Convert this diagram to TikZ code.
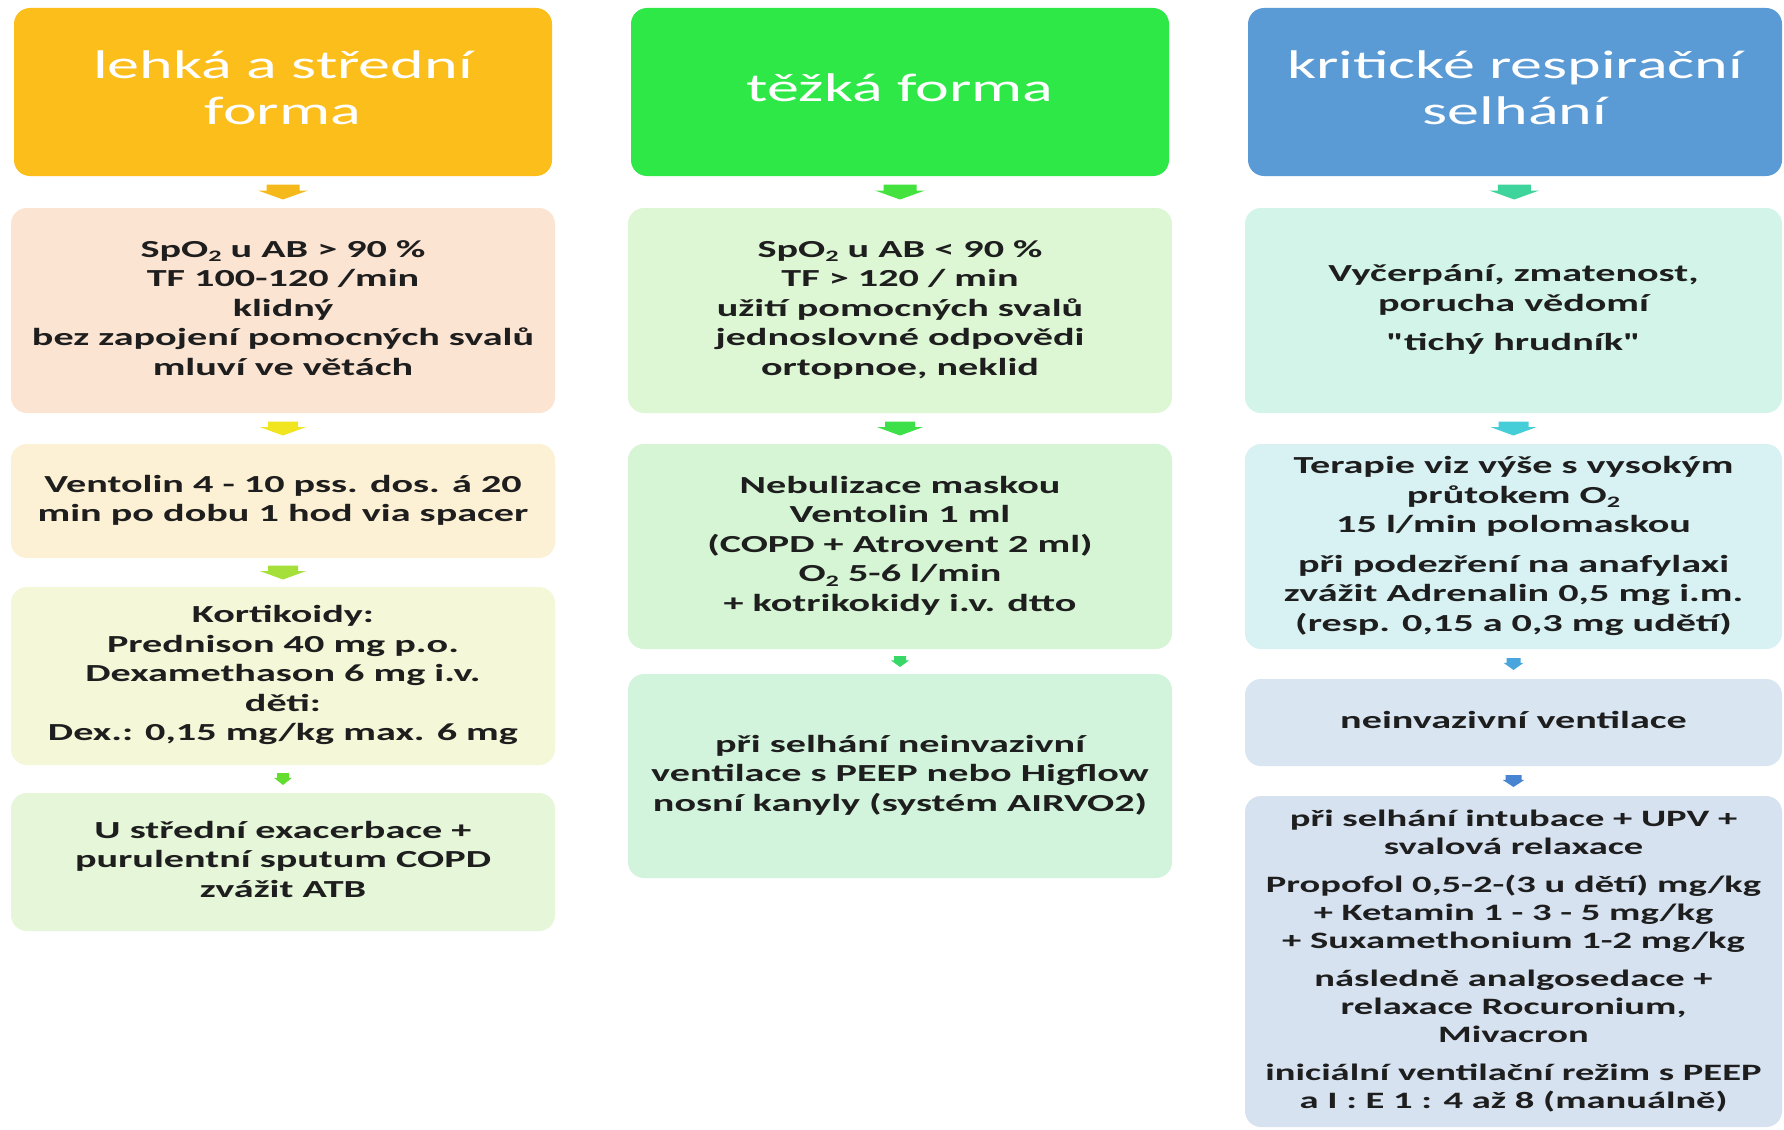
\documentclass[tikz,border=0pt]{standalone}
\usepackage{fontspec}
\setmainfont{Carlito}
\usepackage{graphicx}
\usetikzlibrary{calc}
\definecolor{hA}{HTML}{FBBE1B}
\definecolor{hB}{HTML}{2EE847}
\definecolor{hC}{HTML}{5B9BD5}
\definecolor{cA2}{HTML}{FCE4D2}
\definecolor{cA3}{HTML}{FDF1D5}
\definecolor{cA4}{HTML}{F4F8D8}
\definecolor{cA5}{HTML}{E5F6D9}
\definecolor{cB2}{HTML}{DDF7D5}
\definecolor{cB3}{HTML}{D5F5D5}
\definecolor{cB4}{HTML}{D3F4DC}
\definecolor{cC2}{HTML}{D3F4E8}
\definecolor{cC3}{HTML}{D8F1F3}
\definecolor{cC4}{HTML}{D9E6F1}
\definecolor{cC5}{HTML}{D6E2F0}
\definecolor{aA1}{HTML}{F6B91C}
\definecolor{aA2}{HTML}{F0E51E}
\definecolor{aA3}{HTML}{A5E03A}
\definecolor{aA4}{HTML}{63DD2F}
\definecolor{aB1}{HTML}{44E23E}
\definecolor{aB2}{HTML}{3DE048}
\definecolor{aB3}{HTML}{37D866}
\definecolor{aC1}{HTML}{3FD49C}
\definecolor{aC2}{HTML}{45CED8}
\definecolor{aC3}{HTML}{4AA5DC}
\definecolor{aC4}{HTML}{4785D3}
\definecolor{txtdark}{HTML}{1E1E1E}
\newcommand\subtwo{\raisebox{-0.35ex}{\fontsize{16}{16}\selectfont 2}}
\newcommand\bodytext[1]{\scalebox{1.64}[1]{\fontsize{24.5}{29.5}\selectfont\bfseries\begin{tabular}{@{}c@{}}#1\end{tabular}}}
\newcommand\smalltext[1]{\scalebox{1.64}[1]{\fontsize{23.5}{28}\selectfont\bfseries\begin{tabular}{@{}c@{}}#1\end{tabular}}}
\newcommand\headtext[1]{\raisebox{-3pt}{\scalebox{1.6}[1]{\fontsize{40}{46}\selectfont\begin{tabular}{@{}c@{}}#1\end{tabular}}}}
\newcommand\flowarrow[6]{%
  \coordinate (am) at ($(#2.south)!0.5!(#3.north)$);
  \fill[#1] ($(am)+({-#4/2},{-#6/2})$) -- ($(am)+({#4/2},{-#6/2})$) -- ($(am)+({#4/2},{-0.1*#6})$) -- ($(am)+({#5/2},{-0.1*#6})$) -- ($(am)+(0,{#6/2})$) -- ($(am)+({-#5/2},{-0.1*#6})$) -- ($(am)+({-#4/2},{-0.1*#6})$) -- cycle;}
\begin{document}
\begin{tikzpicture}[x=1pt,y=-1pt,
  box/.style={rounded corners=16pt, draw=none, inner sep=0pt, text=txtdark},
  head/.style={box, text=white, minimum height=168pt}]
\useasboundingbox[fill=white] (0,0) rectangle (1784,1129);
% column 1
\node[head, fill=hA, minimum width=538pt] (h1) at (283,92) {\headtext{lehká a střední\\forma}};
\node[box, fill=cA2, minimum width=544pt, minimum height=205pt] (a2) at (283,310.5) {\bodytext{SpO\subtwo{} u AB > 90 \%\\TF 100-120 /min\\klidný\\bez zapojení pomocných svalů\\mluví ve větách}};
\node[box, fill=cA3, minimum width=544pt, minimum height=114pt] (a3) at (283,501) {\bodytext{Ventolin 4 - 10 pss. dos. á 20\\min po dobu 1 hod via spacer}};
\node[box, fill=cA4, minimum width=544pt, minimum height=178pt] (a4) at (283,676) {\bodytext{Kortikoidy:\\Prednison 40 mg p.o.\\Dexamethason 6 mg i.v.\\děti:\\Dex.: 0,15 mg/kg max. 6 mg}};
\node[box, fill=cA5, minimum width=544pt, minimum height=138pt] (a5) at (283,862) {\bodytext{U střední exacerbace +\\purulentní sputum COPD\\zvážit ATB}};
\flowarrow{aA1}{h1}{a2}{33}{50}{15}
\flowarrow{aA2}{a2}{a3}{30}{46}{14}
\flowarrow{aA3}{a3}{a4}{30}{46}{14}
\flowarrow{aA4}{a4}{a5}{12}{18}{12}
% column 2
\node[head, fill=hB, minimum width=538pt] (h2) at (900,92) {\headtext{těžká forma}};
\node[box, fill=cB2, minimum width=544pt, minimum height=205pt] (b2) at (900,310.5) {\bodytext{SpO\subtwo{} u AB < 90 \%\\TF > 120 / min\\užití pomocných svalů\\jednoslovné odpovědi\\ortopnoe, neklid}};
\node[box, fill=cB3, minimum width=544pt, minimum height=205pt] (b3) at (900,546.5) {\bodytext{Nebulizace maskou\\Ventolin 1 ml\\(COPD + Atrovent 2 ml)\\O\subtwo{} 5-6 l/min\\+ kotrikokidy i.v. dtto}};
\node[box, fill=cB4, minimum width=544pt, minimum height=204pt] (b4) at (900,776) {\bodytext{při selhání neinvazivní\\ventilace s PEEP nebo Higflow\\nosní kanyly (systém AIRVO2)}};
\flowarrow{aB1}{h2}{b2}{33}{50}{15}
\flowarrow{aB2}{b2}{b3}{30}{46}{14}
\flowarrow{aB3}{b3}{b4}{12}{18}{11}
% column 3
\node[head, fill=hC, minimum width=534pt] (h3) at (1515,92) {\headtext{kritické respirační\\selhání}};
\node[box, fill=cC2, minimum width=537pt, minimum height=205pt] (c2) at (1513.5,310.5) {\bodytext{Vyčerpání, zmatenost,\\porucha vědomí\\[10pt]\textquotedbl tichý hrudník\textquotedbl}};
\node[box, fill=cC3, minimum width=537pt, minimum height=205pt] (c3) at (1513.5,546.5) {\bodytext{Terapie viz výše s vysokým\\průtokem O\subtwo\\15 l/min polomaskou\\[10pt]při podezření na anafylaxi\\zvážit Adrenalin 0,5 mg i.m.\\(resp. 0,15 a 0,3 mg udětí)}};
\node[box, fill=cC4, minimum width=537pt, minimum height=87pt] (c4) at (1513.5,722.5) {\bodytext{neinvazivní ventilace}};
\node[box, fill=cC5, minimum width=537pt, minimum height=331pt] (c5) at (1513.5,961.5) {\smalltext{při selhání intubace + UPV +\\svalová relaxace\\[10pt]Propofol 0,5-2-(3 u dětí) mg/kg\\+ Ketamin 1 - 3 - 5 mg/kg\\+ Suxamethonium 1-2 mg/kg\\[10pt]následně analgosedace +\\relaxace Rocuronium,\\Mivacron\\[10pt]iniciální ventilační režim s PEEP\\a I : E 1 : 4 až 8 (manuálně)}};
\flowarrow{aC1}{h3}{c2}{33}{50}{15}
\flowarrow{aC2}{c2}{c3}{30}{46}{14}
\flowarrow{aC3}{c3}{c4}{14}{20}{12}
\flowarrow{aC4}{c4}{c5}{16}{22}{12}
\end{tikzpicture}
\end{document}
